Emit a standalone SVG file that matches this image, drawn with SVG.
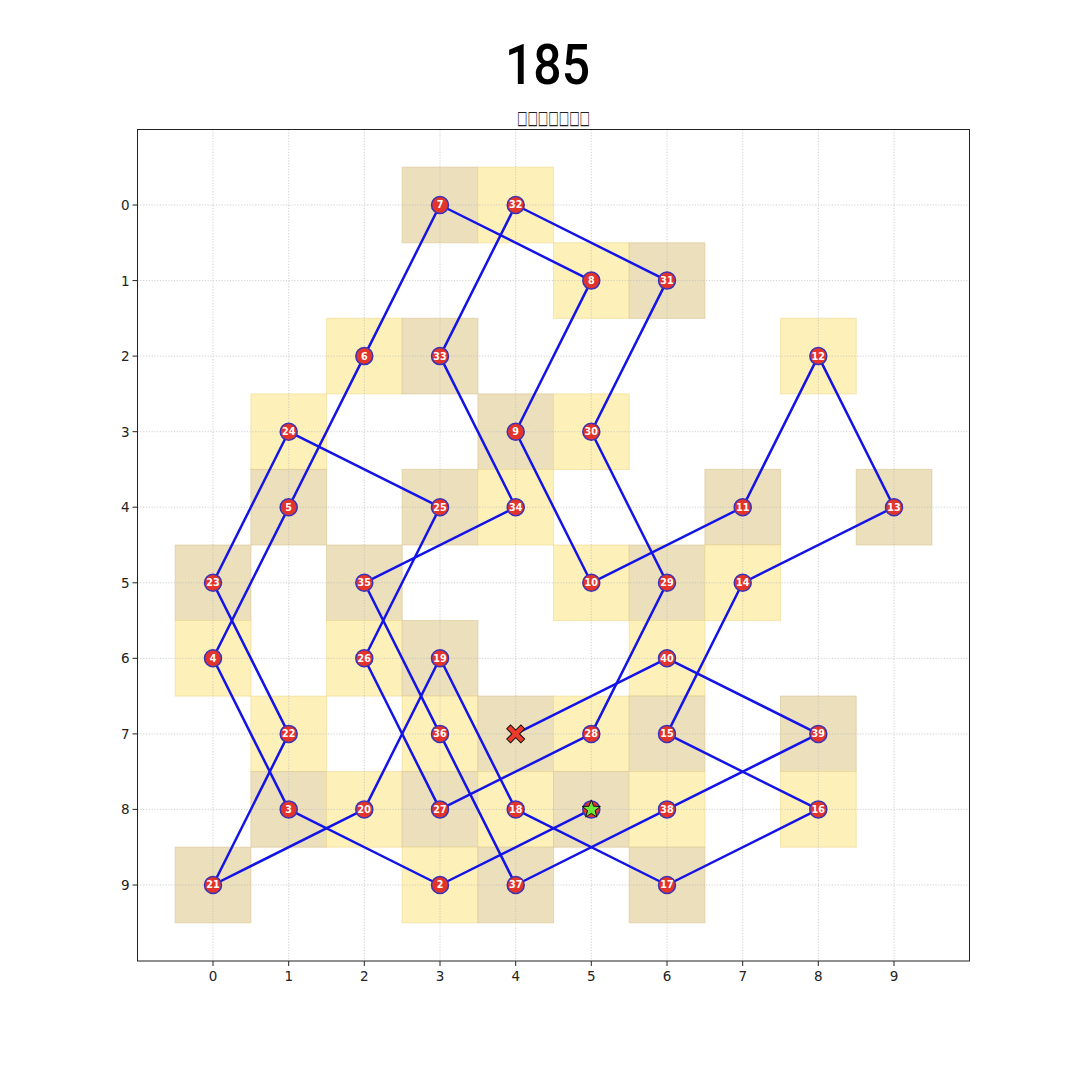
<svg xmlns="http://www.w3.org/2000/svg" width="1080" height="1080" viewBox="0 0 1080 1080">
<style>
.y{fill:#fdf0b9;stroke:#efd98f;stroke-width:1;stroke-opacity:0.6}
.t{fill:#ebdfbc;stroke:#d9c58f;stroke-width:1;stroke-opacity:0.6}
.g{stroke:#bcbcbc;stroke-width:0.7;stroke-dasharray:1.2,1.6}
.e{stroke:#1414e6;stroke-width:2.5;stroke-linecap:round}
.n circle{fill:#e3342c;stroke:#3a32b8;stroke-width:1.5}
.n text{fill:#ffffff;font-family:"DejaVu Sans",sans-serif;font-weight:bold;font-size:9.6px;text-anchor:middle}
.tk{font-family:"DejaVu Sans",sans-serif;font-size:13.5px;fill:#222}
.tm{stroke:#222;stroke-width:1}
</style>
<rect width="1080" height="1080" fill="#ffffff"/>
<text x="547.5" y="84" font-family="Roboto, 'Noto Sans', sans-serif" font-weight="500" font-size="55" text-anchor="middle" textLength="85" lengthAdjust="spacingAndGlyphs" fill="#000">185</text>
<text x="553.5" y="124" font-family="'DejaVu Sans', sans-serif" font-size="19" text-anchor="middle" textLength="73" lengthAdjust="spacingAndGlyphs" fill="#222">□□□□□□□</text>
<g id="squares">
<rect class="t" x="402.2" y="167.2" width="75.7" height="75.6"/>
<rect class="y" x="477.9" y="167.2" width="75.7" height="75.6"/>
<rect class="y" x="553.5" y="242.8" width="75.7" height="75.6"/>
<rect class="t" x="629.2" y="242.8" width="75.7" height="75.6"/>
<rect class="y" x="326.5" y="318.3" width="75.7" height="75.6"/>
<rect class="t" x="402.2" y="318.3" width="75.7" height="75.6"/>
<rect class="y" x="780.5" y="318.3" width="75.7" height="75.6"/>
<rect class="y" x="250.9" y="393.9" width="75.7" height="75.6"/>
<rect class="t" x="477.9" y="393.9" width="75.7" height="75.6"/>
<rect class="y" x="553.5" y="393.9" width="75.7" height="75.6"/>
<rect class="t" x="250.9" y="469.4" width="75.7" height="75.6"/>
<rect class="t" x="402.2" y="469.4" width="75.7" height="75.6"/>
<rect class="y" x="477.9" y="469.4" width="75.7" height="75.6"/>
<rect class="t" x="704.9" y="469.4" width="75.7" height="75.6"/>
<rect class="t" x="856.2" y="469.4" width="75.7" height="75.6"/>
<rect class="t" x="175.2" y="545" width="75.7" height="75.6"/>
<rect class="t" x="326.5" y="545" width="75.7" height="75.6"/>
<rect class="y" x="553.5" y="545" width="75.7" height="75.6"/>
<rect class="t" x="629.2" y="545" width="75.7" height="75.6"/>
<rect class="y" x="704.9" y="545" width="75.7" height="75.6"/>
<rect class="y" x="175.2" y="620.5" width="75.7" height="75.6"/>
<rect class="y" x="326.5" y="620.5" width="75.7" height="75.6"/>
<rect class="t" x="402.2" y="620.5" width="75.7" height="75.6"/>
<rect class="y" x="629.2" y="620.5" width="75.7" height="75.6"/>
<rect class="y" x="250.9" y="696.1" width="75.7" height="75.6"/>
<rect class="y" x="402.2" y="696.1" width="75.7" height="75.6"/>
<rect class="t" x="477.9" y="696.1" width="75.7" height="75.6"/>
<rect class="y" x="553.5" y="696.1" width="75.7" height="75.6"/>
<rect class="t" x="629.2" y="696.1" width="75.7" height="75.6"/>
<rect class="t" x="780.5" y="696.1" width="75.7" height="75.6"/>
<rect class="t" x="250.9" y="771.6" width="75.7" height="75.6"/>
<rect class="y" x="326.5" y="771.6" width="75.7" height="75.6"/>
<rect class="t" x="402.2" y="771.6" width="75.7" height="75.6"/>
<rect class="y" x="477.9" y="771.6" width="75.7" height="75.6"/>
<rect class="t" x="553.5" y="771.6" width="75.7" height="75.6"/>
<rect class="y" x="629.2" y="771.6" width="75.7" height="75.6"/>
<rect class="y" x="780.5" y="771.6" width="75.7" height="75.6"/>
<rect class="t" x="175.2" y="847.2" width="75.7" height="75.6"/>
<rect class="y" x="402.2" y="847.2" width="75.7" height="75.6"/>
<rect class="t" x="477.9" y="847.2" width="75.7" height="75.6"/>
<rect class="t" x="629.2" y="847.2" width="75.7" height="75.6"/>
</g>
<g id="grid">
<line class="g" x1="213" y1="129.5" x2="213" y2="961"/>
<line class="g" x1="288.7" y1="129.5" x2="288.7" y2="961"/>
<line class="g" x1="364.3" y1="129.5" x2="364.3" y2="961"/>
<line class="g" x1="440" y1="129.5" x2="440" y2="961"/>
<line class="g" x1="515.7" y1="129.5" x2="515.7" y2="961"/>
<line class="g" x1="591.3" y1="129.5" x2="591.3" y2="961"/>
<line class="g" x1="667" y1="129.5" x2="667" y2="961"/>
<line class="g" x1="742.7" y1="129.5" x2="742.7" y2="961"/>
<line class="g" x1="818.3" y1="129.5" x2="818.3" y2="961"/>
<line class="g" x1="894" y1="129.5" x2="894" y2="961"/>
<line class="g" x1="137.5" y1="205" x2="969.5" y2="205"/>
<line class="g" x1="137.5" y1="280.6" x2="969.5" y2="280.6"/>
<line class="g" x1="137.5" y1="356.1" x2="969.5" y2="356.1"/>
<line class="g" x1="137.5" y1="431.7" x2="969.5" y2="431.7"/>
<line class="g" x1="137.5" y1="507.2" x2="969.5" y2="507.2"/>
<line class="g" x1="137.5" y1="582.8" x2="969.5" y2="582.8"/>
<line class="g" x1="137.5" y1="658.3" x2="969.5" y2="658.3"/>
<line class="g" x1="137.5" y1="733.9" x2="969.5" y2="733.9"/>
<line class="g" x1="137.5" y1="809.4" x2="969.5" y2="809.4"/>
<line class="g" x1="137.5" y1="885" x2="969.5" y2="885"/>
</g>
<g id="axes">
<rect x="137.5" y="129.5" width="832" height="831.5" fill="none" stroke="#222" stroke-width="1"/>
<g class="tm">
<line x1="213" y1="961" x2="213" y2="966"/><line x1="288.7" y1="961" x2="288.7" y2="966"/><line x1="364.3" y1="961" x2="364.3" y2="966"/><line x1="440" y1="961" x2="440" y2="966"/><line x1="515.7" y1="961" x2="515.7" y2="966"/><line x1="591.3" y1="961" x2="591.3" y2="966"/><line x1="667" y1="961" x2="667" y2="966"/><line x1="742.7" y1="961" x2="742.7" y2="966"/><line x1="818.3" y1="961" x2="818.3" y2="966"/><line x1="894" y1="961" x2="894" y2="966"/>
<line x1="132.5" y1="205" x2="137.5" y2="205"/><line x1="132.5" y1="280.6" x2="137.5" y2="280.6"/><line x1="132.5" y1="356.1" x2="137.5" y2="356.1"/><line x1="132.5" y1="431.7" x2="137.5" y2="431.7"/><line x1="132.5" y1="507.2" x2="137.5" y2="507.2"/><line x1="132.5" y1="582.8" x2="137.5" y2="582.8"/><line x1="132.5" y1="658.3" x2="137.5" y2="658.3"/><line x1="132.5" y1="733.9" x2="137.5" y2="733.9"/><line x1="132.5" y1="809.4" x2="137.5" y2="809.4"/><line x1="132.5" y1="885" x2="137.5" y2="885"/>
</g>
<g class="tk" text-anchor="middle">
<text x="213" y="981">0</text><text x="288.7" y="981">1</text><text x="364.3" y="981">2</text><text x="440" y="981">3</text><text x="515.7" y="981">4</text><text x="591.3" y="981">5</text><text x="667" y="981">6</text><text x="742.7" y="981">7</text><text x="818.3" y="981">8</text><text x="894" y="981">9</text>
</g>
<g class="tk" text-anchor="end">
<text x="129.5" y="210">0</text><text x="129.5" y="285.6">1</text><text x="129.5" y="361.1">2</text><text x="129.5" y="436.7">3</text><text x="129.5" y="512.2">4</text><text x="129.5" y="587.8">5</text><text x="129.5" y="663.3">6</text><text x="129.5" y="738.9">7</text><text x="129.5" y="814.4">8</text><text x="129.5" y="890">9</text>
</g>
</g>
<g id="connectors">
<line class="e" x1="591.3" y1="809.4" x2="440" y2="885"/>
<line class="e" x1="440" y1="885" x2="288.7" y2="809.4"/>
<line class="e" x1="288.7" y1="809.4" x2="213" y2="658.3"/>
<line class="e" x1="213" y1="658.3" x2="288.7" y2="507.2"/>
<line class="e" x1="288.7" y1="507.2" x2="364.3" y2="356.1"/>
<line class="e" x1="364.3" y1="356.1" x2="440" y2="205"/>
<line class="e" x1="440" y1="205" x2="591.3" y2="280.6"/>
<line class="e" x1="591.3" y1="280.6" x2="515.7" y2="431.7"/>
<line class="e" x1="515.7" y1="431.7" x2="591.3" y2="582.8"/>
<line class="e" x1="591.3" y1="582.8" x2="742.7" y2="507.2"/>
<line class="e" x1="742.7" y1="507.2" x2="818.3" y2="356.1"/>
<line class="e" x1="818.3" y1="356.1" x2="894" y2="507.2"/>
<line class="e" x1="894" y1="507.2" x2="742.7" y2="582.8"/>
<line class="e" x1="742.7" y1="582.8" x2="667" y2="733.9"/>
<line class="e" x1="667" y1="733.9" x2="818.3" y2="809.4"/>
<line class="e" x1="818.3" y1="809.4" x2="667" y2="885"/>
<line class="e" x1="667" y1="885" x2="515.7" y2="809.4"/>
<line class="e" x1="515.7" y1="809.4" x2="440" y2="658.3"/>
<line class="e" x1="440" y1="658.3" x2="364.3" y2="809.4"/>
<line class="e" x1="364.3" y1="809.4" x2="213" y2="885"/>
<line class="e" x1="213" y1="885" x2="288.7" y2="733.9"/>
<line class="e" x1="288.7" y1="733.9" x2="213" y2="582.8"/>
<line class="e" x1="213" y1="582.8" x2="288.7" y2="431.7"/>
<line class="e" x1="288.7" y1="431.7" x2="440" y2="507.2"/>
<line class="e" x1="440" y1="507.2" x2="364.3" y2="658.3"/>
<line class="e" x1="364.3" y1="658.3" x2="440" y2="809.4"/>
<line class="e" x1="440" y1="809.4" x2="591.3" y2="733.9"/>
<line class="e" x1="591.3" y1="733.9" x2="667" y2="582.8"/>
<line class="e" x1="667" y1="582.8" x2="591.3" y2="431.7"/>
<line class="e" x1="591.3" y1="431.7" x2="667" y2="280.6"/>
<line class="e" x1="667" y1="280.6" x2="515.7" y2="205"/>
<line class="e" x1="515.7" y1="205" x2="440" y2="356.1"/>
<line class="e" x1="440" y1="356.1" x2="515.7" y2="507.2"/>
<line class="e" x1="515.7" y1="507.2" x2="364.3" y2="582.8"/>
<line class="e" x1="364.3" y1="582.8" x2="440" y2="733.9"/>
<line class="e" x1="440" y1="733.9" x2="515.7" y2="885"/>
<line class="e" x1="515.7" y1="885" x2="667" y2="809.4"/>
<line class="e" x1="667" y1="809.4" x2="818.3" y2="733.9"/>
<line class="e" x1="818.3" y1="733.9" x2="667" y2="658.3"/>
<line class="e" x1="667" y1="658.3" x2="515.7" y2="733.9"/>
</g>
<g id="nodes">
<g id="n1" class="n"><circle cx="591.3" cy="809.4" r="8.5"/><polygon points="591.3,799.9 593.6,806.2 600.3,806.5 595.1,810.6 596.9,817.1 591.3,813.4 585.7,817.1 587.5,810.6 582.3,806.5 589,806.2" fill="#6ae93a" stroke="#111" stroke-width="1"/></g>
<g id="n2" class="n"><circle cx="440" cy="885" r="8.5"/><text x="440" y="888.4">2</text></g>
<g id="n3" class="n"><circle cx="288.7" cy="809.4" r="8.5"/><text x="288.7" y="812.8">3</text></g>
<g id="n4" class="n"><circle cx="213" cy="658.3" r="8.5"/><text x="213" y="661.7">4</text></g>
<g id="n5" class="n"><circle cx="288.7" cy="507.2" r="8.5"/><text x="288.7" y="510.6">5</text></g>
<g id="n6" class="n"><circle cx="364.3" cy="356.1" r="8.5"/><text x="364.3" y="359.5">6</text></g>
<g id="n7" class="n"><circle cx="440" cy="205" r="8.5"/><text x="440" y="208.4">7</text></g>
<g id="n8" class="n"><circle cx="591.3" cy="280.6" r="8.5"/><text x="591.3" y="284">8</text></g>
<g id="n9" class="n"><circle cx="515.7" cy="431.7" r="8.5"/><text x="515.7" y="435.1">9</text></g>
<g id="n10" class="n"><circle cx="591.3" cy="582.8" r="8.5"/><text x="591.3" y="586.2">10</text></g>
<g id="n11" class="n"><circle cx="742.7" cy="507.2" r="8.5"/><text x="742.7" y="510.6">11</text></g>
<g id="n12" class="n"><circle cx="818.3" cy="356.1" r="8.5"/><text x="818.3" y="359.5">12</text></g>
<g id="n13" class="n"><circle cx="894" cy="507.2" r="8.5"/><text x="894" y="510.6">13</text></g>
<g id="n14" class="n"><circle cx="742.7" cy="582.8" r="8.5"/><text x="742.7" y="586.2">14</text></g>
<g id="n15" class="n"><circle cx="667" cy="733.9" r="8.5"/><text x="667" y="737.3">15</text></g>
<g id="n16" class="n"><circle cx="818.3" cy="809.4" r="8.5"/><text x="818.3" y="812.8">16</text></g>
<g id="n17" class="n"><circle cx="667" cy="885" r="8.5"/><text x="667" y="888.4">17</text></g>
<g id="n18" class="n"><circle cx="515.7" cy="809.4" r="8.5"/><text x="515.7" y="812.8">18</text></g>
<g id="n19" class="n"><circle cx="440" cy="658.3" r="8.5"/><text x="440" y="661.7">19</text></g>
<g id="n20" class="n"><circle cx="364.3" cy="809.4" r="8.5"/><text x="364.3" y="812.8">20</text></g>
<g id="n21" class="n"><circle cx="213" cy="885" r="8.5"/><text x="213" y="888.4">21</text></g>
<g id="n22" class="n"><circle cx="288.7" cy="733.9" r="8.5"/><text x="288.7" y="737.3">22</text></g>
<g id="n23" class="n"><circle cx="213" cy="582.8" r="8.5"/><text x="213" y="586.2">23</text></g>
<g id="n24" class="n"><circle cx="288.7" cy="431.7" r="8.5"/><text x="288.7" y="435.1">24</text></g>
<g id="n25" class="n"><circle cx="440" cy="507.2" r="8.5"/><text x="440" y="510.6">25</text></g>
<g id="n26" class="n"><circle cx="364.3" cy="658.3" r="8.5"/><text x="364.3" y="661.7">26</text></g>
<g id="n27" class="n"><circle cx="440" cy="809.4" r="8.5"/><text x="440" y="812.8">27</text></g>
<g id="n28" class="n"><circle cx="591.3" cy="733.9" r="8.5"/><text x="591.3" y="737.3">28</text></g>
<g id="n29" class="n"><circle cx="667" cy="582.8" r="8.5"/><text x="667" y="586.2">29</text></g>
<g id="n30" class="n"><circle cx="591.3" cy="431.7" r="8.5"/><text x="591.3" y="435.1">30</text></g>
<g id="n31" class="n"><circle cx="667" cy="280.6" r="8.5"/><text x="667" y="284">31</text></g>
<g id="n32" class="n"><circle cx="515.7" cy="205" r="8.5"/><text x="515.7" y="208.4">32</text></g>
<g id="n33" class="n"><circle cx="440" cy="356.1" r="8.5"/><text x="440" y="359.5">33</text></g>
<g id="n34" class="n"><circle cx="515.7" cy="507.2" r="8.5"/><text x="515.7" y="510.6">34</text></g>
<g id="n35" class="n"><circle cx="364.3" cy="582.8" r="8.5"/><text x="364.3" y="586.2">35</text></g>
<g id="n36" class="n"><circle cx="440" cy="733.9" r="8.5"/><text x="440" y="737.3">36</text></g>
<g id="n37" class="n"><circle cx="515.7" cy="885" r="8.5"/><text x="515.7" y="888.4">37</text></g>
<g id="n38" class="n"><circle cx="667" cy="809.4" r="8.5"/><text x="667" y="812.8">38</text></g>
<g id="n39" class="n"><circle cx="818.3" cy="733.9" r="8.5"/><text x="818.3" y="737.3">39</text></g>
<g id="n40" class="n"><circle cx="667" cy="658.3" r="8.5"/><text x="667" y="661.7">40</text></g>
<g id="n41"><polygon transform="translate(515.7,733.9) rotate(45)" points="2.7,2.7 2.7,10 -2.7,10 -2.7,2.7 -10,2.7 -10,-2.7 -2.7,-2.7 -2.7,-10 2.7,-10 2.7,-2.7 10,-2.7 10,2.7" fill="#ec3b2c" stroke="#111" stroke-width="1"/></g>
</g>
</svg>
